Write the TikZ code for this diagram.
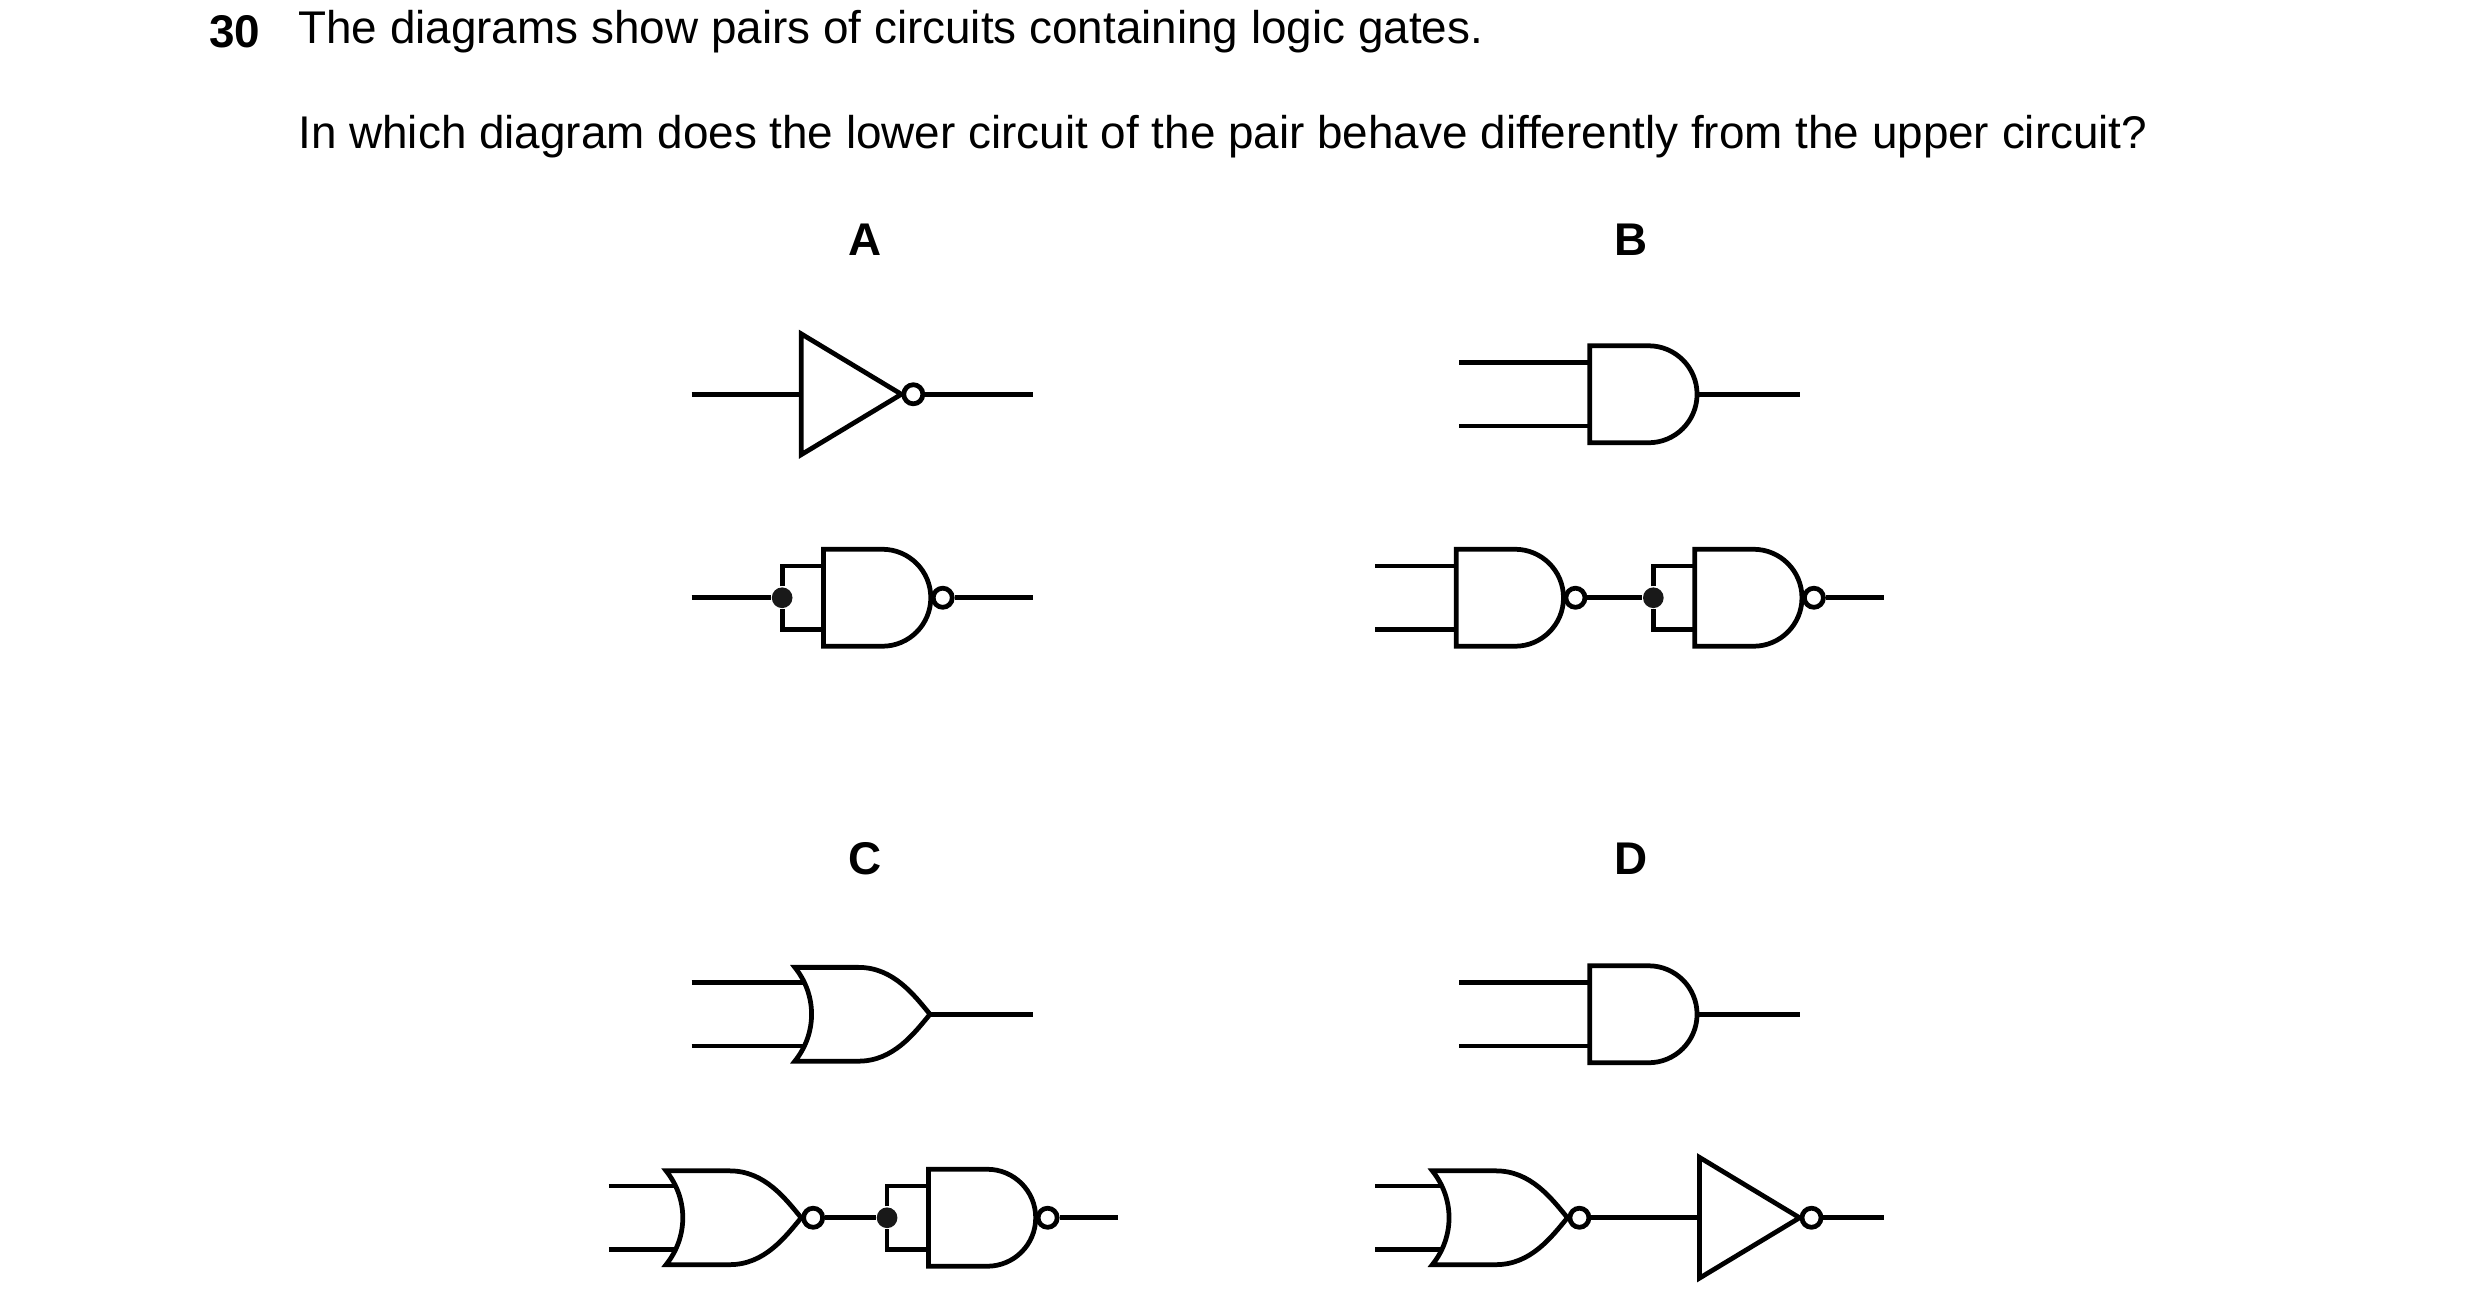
\documentclass[tikz,border=0pt]{standalone}
\usepackage{fontspec}
\setmainfont{Liberation Sans}
\usetikzlibrary{positioning}
\tikzset{gate/.style={line width=0.85pt, line join=miter},
  wire/.style={line width=0.85pt},
  bubble/.style={circle, draw, fill=white, line width=0.85pt, inner sep=0pt, minimum size=0.12cm, anchor=west},
  dot/.style={circle, fill=black!90, inner sep=0pt, minimum size=0.13cm},
  lbl/.style={font=\fontsize{8.2}{9}\selectfont\bfseries},
  txt/.style={font=\fontsize{8.2}{9}\selectfont, anchor=west, inner sep=0pt}}
% AND gate: name, left x, centre y
\newcommand{\andg}[3]{%
  \draw[gate] ({#2},{-#3-30.5}) -- ++(37,0) arc[start angle=-90,end angle=90,radius=30.5] -- ({#2},{-#3+30.5}) -- cycle;
  \coordinate (#1-a) at ({#2},{-#3+20}); \coordinate (#1-b) at ({#2},{-#3-20});
  \coordinate (#1-o) at ({#2+67.5},{-#3});}
% OR gate
\newcommand{\org}[3]{%
  \draw[gate] ({#2},{-#3+29.5}) -- ++(40,0) .. controls ({#2+62},{-#3+29.5}) and ({#2+75},{-#3+12}) .. ({#2+85},{-#3})
    .. controls ({#2+75},{-#3-12}) and ({#2+62},{-#3-29.5}) .. ({#2+40},{-#3-29.5}) -- ({#2},{-#3-29.5})
    .. controls ({#2+14},{-#3-12}) and ({#2+14},{-#3+12}) .. cycle;
  \coordinate (#1-a) at ({#2+6},{-#3+20}); \coordinate (#1-b) at ({#2+6},{-#3-20});
  \coordinate (#1-o) at ({#2+85},{-#3});}
% inverter
\newcommand{\notg}[3]{%
  \draw[gate] ({#2},{-#3+38}) -- ({#2+63},{-#3}) -- ({#2},{-#3-38}) -- cycle;
  \coordinate (#1-a) at ({#2},{-#3}); \coordinate (#1-o) at ({#2+63},{-#3});}
\begin{document}
\begin{tikzpicture}[x=0.01cm, y=0.01cm]
  \useasboundingbox (0,0) rectangle (1560,-827);
  \node[txt, font=\fontsize{8.2}{9}\selectfont\bfseries] (num) at (131,-20) {30};
  \node[txt] (q1) at (187,-20) {The diagrams show pairs of circuits containing logic gates.};
  \node[txt] (q2) at (187,-86) {In which diagram does the lower circuit of the pair behave differently from the upper circuit?};
  \node[lbl] (la) at (544,-151) {A};
  \node[lbl] (lb) at (1026,-151) {B};
  \node[lbl] (lc) at (544,-540) {C};
  \node[lbl] (ld) at (1026,-540) {D};

  % A
  \notg{a1}{504}{248}
  \node[bubble] (a1n) at (a1-o) {};
  \coordinate (a1i) at (435,-248); \coordinate (a1e) at (650,-248);
  \draw[wire] (a1i) -- (a1-a); \draw[wire] (a1n) -- (a1e);
  \andg{a2}{518}{376}
  \node[bubble] (a2n) at (a2-o) {};
  \node[dot] (a2d) at (492,-376) {};
  \coordinate (a2i) at (435,-376); \coordinate (a2e) at (650,-376);
  \draw[wire] (a2i) -- (a2d); \draw[wire] (a2d) |- (a2-a); \draw[wire] (a2d) |- (a2-b);
  \draw[wire] (a2n) -- (a2e);

  % B
  \andg{b1}{1000}{248}
  \coordinate (b1i) at (918,-228); \coordinate (b1j) at (918,-268); \coordinate (b1e) at (1132,-248);
  \draw[wire] (b1i) -- (b1-a); \draw[wire] (b1j) -- (b1-b); \draw[wire] (b1-o) -- (b1e);
  \andg{b2}{916}{376}
  \node[bubble] (b2n) at (b2-o) {};
  \coordinate (b2i) at (865,-356); \coordinate (b2j) at (865,-396);
  \draw[wire] (b2i) -- (b2-a); \draw[wire] (b2j) -- (b2-b);
  \andg{b3}{1066}{376}
  \node[bubble] (b3n) at (b3-o) {};
  \node[dot] (b3d) at (1040,-376) {};
  \coordinate (b3e) at (1185,-376);
  \draw[wire] (b2n) -- (b3d); \draw[wire] (b3d) |- (b3-a); \draw[wire] (b3d) |- (b3-b);
  \draw[wire] (b3n) -- (b3e);

  % C
  \org{c1}{500}{638}
  \coordinate (c1i) at (435,-618); \coordinate (c1j) at (435,-658); \coordinate (c1e) at (650,-638);
  \draw[wire] (c1i) -- (c1-a); \draw[wire] (c1j) -- (c1-b); \draw[wire] (c1-o) -- (c1e);
  \org{c2}{419}{766}
  \node[bubble] (c2n) at (c2-o) {};
  \coordinate (c2i) at (383,-746); \coordinate (c2j) at (383,-786);
  \draw[wire] (c2i) -- (c2-a); \draw[wire] (c2j) -- (c2-b);
  \andg{c3}{584}{766}
  \node[bubble] (c3n) at (c3-o) {};
  \node[dot] (c3d) at (558,-766) {};
  \coordinate (c3e) at (703,-766);
  \draw[wire] (c2n) -- (c3d); \draw[wire] (c3d) |- (c3-a); \draw[wire] (c3d) |- (c3-b);
  \draw[wire] (c3n) -- (c3e);

  % D
  \andg{d1}{1000}{638}
  \coordinate (d1i) at (918,-618); \coordinate (d1j) at (918,-658); \coordinate (d1e) at (1132,-638);
  \draw[wire] (d1i) -- (d1-a); \draw[wire] (d1j) -- (d1-b); \draw[wire] (d1-o) -- (d1e);
  \org{d2}{901}{766}
  \node[bubble] (d2n) at (d2-o) {};
  \coordinate (d2i) at (865,-746); \coordinate (d2j) at (865,-786);
  \draw[wire] (d2i) -- (d2-a); \draw[wire] (d2j) -- (d2-b);
  \notg{d3}{1069}{766}
  \node[bubble] (d3n) at (d3-o) {};
  \coordinate (d3e) at (1185,-766);
  \draw[wire] (d2n) -- (d3-a); \draw[wire] (d3n) -- (d3e);
\end{tikzpicture}
\end{document}
